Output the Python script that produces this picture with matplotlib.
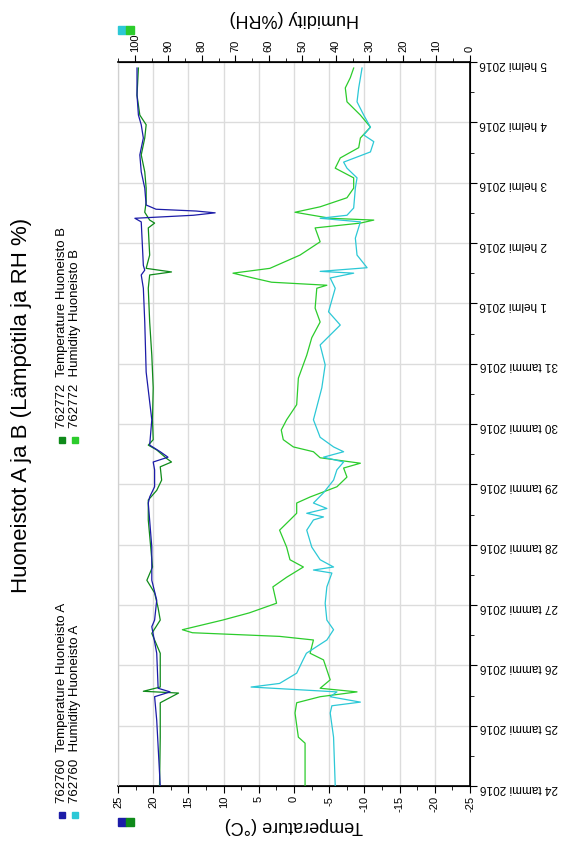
import numpy as np
import matplotlib
matplotlib.use('Agg')
import matplotlib.pyplot as plt
import matplotlib.dates as mdates
from matplotlib.ticker import MultipleLocator, FuncFormatter
from matplotlib.lines import Line2D

plt.rcParams['font.family'] = ['Liberation Sans', 'DejaVu Sans']

# days since 24 Jan 2016 00:00 and readings
temp_a_days = [0, 1.09, 1.48, 1.56, 1.62, 2.2, 2.64, 2.75, 3.08, 3.41, 3.96, 4.69, 4.79, 4.96,
               5.24, 5.37, 5.45, 5.54, 5.65, 6.07, 6.86, 7.69, 8.25, 8.47, 8.55, 8.63, 9.35,
               9.41, 9.46, 9.5, 9.53, 9.56, 9.63, 9.91, 10.18, 10.46, 10.74, 10.96, 11.12,
               11.45, 11.9]
temp_a = [19.0, 19.5, 19.8, 17.6, 19.3, 19.5, 20.2, 19.8, 19.5, 20.2, 20.2, 20.7, 20.5, 19.8,
          19.8, 20.0, 17.9, 19.0, 20.5, 20.2, 21.0, 21.2, 21.4, 21.7, 21.2, 21.4, 21.7,
          22.6, 14.3, 11.2, 13.9, 19.6, 21.0, 21.2, 21.7, 21.9, 21.4, 21.7, 22.1,
          22.3, 22.3]

temp_b_days = [0, 0.81, 1.38, 1.54, 1.57, 1.64, 2.2, 2.53, 2.75, 2.95, 3.2, 3.41, 3.63,
               4.41, 4.74, 4.9, 5.07, 5.29, 5.37, 5.43, 5.57, 5.65, 5.74, 6.07, 6.6, 7.14,
               7.69, 8.25, 8.47, 8.52, 8.58, 8.8, 9.25, 9.33, 9.38, 9.51, 9.68, 9.91, 10.18,
               10.46, 10.74, 10.96, 11.12, 11.45, 11.9]
temp_b = [19.1, 19.0, 19.0, 16.4, 21.4, 19.0, 19.0, 20.2, 19.0, 19.3, 19.8, 20.9, 20.1,
          20.7, 20.7, 19.5, 18.8, 19.0, 17.4, 18.1, 19.5, 20.7, 20.0, 20.1, 20.0, 20.2,
          20.5, 20.7, 20.5, 17.4, 21.0, 20.5, 20.7, 19.8, 20.5, 21.2, 21.0, 21.0, 21.2,
          21.7, 21.2, 21.0, 21.9, 22.3, 22.1]

hum_a_days = [0, 0.81, 1.21, 1.33, 1.39, 1.48, 1.56, 1.64, 1.7, 1.87, 2.09, 2.2, 2.42, 2.59,
              2.75, 3.03, 3.3, 3.53, 3.58, 3.63, 3.75, 3.96, 4.24, 4.41, 4.46, 4.52, 4.6,
              4.69, 4.86, 5.07, 5.24, 5.37, 5.45, 5.54, 5.62, 5.78, 6.07, 6.6, 6.98, 7.31,
              7.64, 7.86, 8.25, 8.42, 8.5, 8.53, 8.59, 8.8, 9.08, 9.35, 9.41, 9.46, 9.58,
              9.91, 10.08, 10.24, 10.34, 10.51, 10.68, 10.79, 10.92, 11.12, 11.34, 11.57,
              11.9]
hum_a = [40.2, 40.7, 41.7, 41.2, 32.7, 41.7, 39.7, 65.3, 56.8, 51.7, 49.8, 48.8, 42.7, 40.7,
         42.7, 43.2, 42.7, 41.2, 46.7, 40.7, 44.7, 47.2, 48.7, 46.7, 43.7, 48.7, 42.7,
         46.7, 43.7, 40.7, 39.7, 37.7, 43.7, 37.7, 40.7, 44.7, 46.7, 44.2, 43.2, 44.7,
         38.7, 42.2, 40.2, 41.7, 34.7, 44.7, 30.7, 33.7, 34.2, 32.7, 44.7, 36.7, 34.7,
         34.2, 33.7, 36.7, 37.7, 29.7, 28.7, 31.7, 29.7, 31.7, 33.7, 33.2, 32.2]

hum_b_days = [0, 0.71, 0.81, 1.21, 1.38, 1.48, 1.56, 1.62, 1.76, 2.09, 2.2, 2.42, 2.48, 2.54,
              2.59, 2.75, 2.87, 3.03, 3.3, 3.46, 3.63, 3.75, 3.96, 4.24, 4.41, 4.52, 4.69,
              4.79, 4.96, 5.12, 5.27, 5.35, 5.44, 5.54, 5.62, 5.74, 5.9, 6.07, 6.32, 6.76,
              7.14, 7.43, 7.69, 7.92, 8.25, 8.3, 8.35, 8.42, 8.5, 8.58, 8.8, 9.02, 9.25,
              9.33, 9.38, 9.41, 9.51, 9.6, 9.75, 9.91, 10.08, 10.24, 10.41, 10.58, 10.74,
              10.92, 11.12, 11.34, 11.57, 11.74, 11.9]
hum_b = [49.2, 49.2, 51.2, 52.2, 51.7, 44.7, 33.7, 44.7, 41.7, 43.7, 47.7, 46.7, 56.8, 82.8,
         85.8, 73.8, 65.8, 57.7, 58.8, 54.7, 49.7, 53.7, 54.7, 56.8, 53.7, 51.7, 51.7,
         47.7, 39.7, 36.7, 37.7, 32.7, 44.7, 46.7, 52.7, 55.7, 56.3, 54.7, 51.7, 51.2,
         48.7, 47.2, 44.7, 46.2, 45.7, 42.7, 59.2, 64.7, 70.7, 59.7, 50.7, 44.7, 46.2,
         32.7, 28.7, 41.7, 52.2, 44.7, 36.7, 34.7, 34.7, 40.2, 38.7, 33.2, 32.7,
         29.7, 32.7, 36.7, 37.2, 35.7, 34.7]

temp_ticks = np.arange(-25, 26, 5)
hum_ticks = np.arange(0, 101, 10)
month_names = {1: 'tammi', 2: 'helmi'}

title = 'Huoneistot A ja B (Lämpötila ja RH %)'
legend_a = ['762760  Temperature Huoneisto A', '762760  Humidity Huoneisto A']
legend_b = ['762772  Temperature Huoneisto B', '762772  Humidity Huoneisto B']

c_temp_a = '#1c1ca8'
c_temp_b = '#0f8a1a'
c_hum_a = '#2cc8d6'
c_hum_b = '#2ccc2c'

start = np.datetime64('2016-01-24T00:00')


def to_dates(days):
    mins = np.round(np.array(days) * 1440).astype('timedelta64[m]')
    return start + mins


W, H = 566, 842
fig = plt.figure(figsize=(W / 100, H / 100), dpi=100)
ax = fig.add_axes([118 / W, 1 - 786 / H, (470 - 118) / W, (786 - 62) / H])

ax.plot(temp_b, to_dates(temp_b_days), color=c_temp_b, lw=0.9, zorder=3)
ax.plot(temp_a, to_dates(temp_a_days), color=c_temp_a, lw=0.9, zorder=3)

ax.set_xlim(25, -25)
ax.set_ylim(start, start + np.timedelta64(12, 'D'))
ax.set_xticks(temp_ticks)
ax.xaxis.set_minor_locator(MultipleLocator(2.5))
ax.set_xticklabels([str(t) for t in temp_ticks], rotation=90)
ax.set_xlabel('Temperature (°C)', rotation=180, fontsize=13, labelpad=4)

ax.yaxis.set_major_locator(mdates.DayLocator())
ax.yaxis.set_minor_locator(mdates.HourLocator(byhour=[12]))
ax.yaxis.set_major_formatter(FuncFormatter(
    lambda v, p: '%d %s %d' % (mdates.num2date(v).day, month_names[mdates.num2date(v).month],
                               mdates.num2date(v).year)))
ax.yaxis.tick_right()
ax.tick_params(axis='y', which='major', labelsize=8.5, length=5, labelrotation=180, pad=2)
ax.tick_params(axis='y', which='minor', length=3)
ax.tick_params(axis='x', which='major', labelsize=8, length=5, pad=2)
ax.tick_params(axis='x', which='minor', length=3)

ax.grid(True, which='major', color='#dcdcdc', lw=1)
ax.spines['left'].set_color('#d0d0d0')
for s in ['right', 'bottom']:
    ax.spines[s].set_linewidth(1.2)

axh = ax.twiny()
axh.plot(hum_b, to_dates(hum_b_days), color=c_hum_b, lw=0.9)
axh.plot(hum_a, to_dates(hum_a_days), color=c_hum_a, lw=0.9)
axh.set_xlim(105, 0)
axh.set_xticks(hum_ticks)
axh.xaxis.set_minor_locator(MultipleLocator(5))
axh.set_xticklabels([str(t) for t in hum_ticks], rotation=90)
axh.tick_params(axis='x', which='major', labelsize=8, length=5, pad=2)
axh.tick_params(axis='x', which='minor', length=3)
axh.set_xlabel('Humidity (%RH)', rotation=180, fontsize=13, labelpad=8)
axh.spines['top'].set_linewidth(1.2)
axh.spines['left'].set_color('#d0d0d0')

fig.text(22 / W, 1 - 405 / H, title, rotation=90, ha='center', va='center', fontsize=16)


def square(x, y, color, size=6):
    fig.add_artist(Line2D([x / W], [1 - y / H], marker='s', markersize=size, color=color,
                          lw=0, transform=fig.transFigure))


def legend_col(y0, labels, colors):
    for i, (lab, col) in enumerate(zip(labels, colors)):
        x = 62 + 13 * i
        square(x, y0, col, 5)
        fig.text(x / W, 1 - (y0 - 12) / H, lab, rotation=90, ha='center', va='bottom',
                 fontsize=9.5)


legend_col(815, legend_a, [c_temp_a, c_hum_a])
legend_col(440, legend_b, [c_temp_b, c_hum_b])

square(122, 822, c_temp_a)
square(130, 822, c_temp_b)
square(122, 30, c_hum_a)
square(130, 30, c_hum_b)

fig.savefig('out.png', dpi=100)
